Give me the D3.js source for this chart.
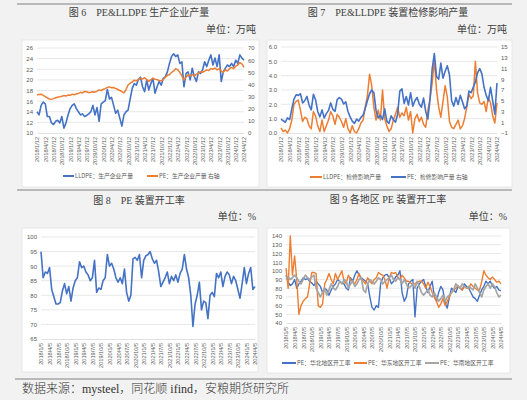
<!DOCTYPE html>
<html><head><meta charset="utf-8">
<script src="https://cdn.jsdelivr.net/npm/d3@7"></script>
<style>
html,body{margin:0;padding:0;background:#f2f2f2;}
svg{display:block;}
</style></head><body>
<svg id="c" width="527" height="400"></svg>
<script>
const ticks12 = ["2018/1/12","2018/4/12","2018/7/12","2018/10/12","2019/1/12","2019/4/12","2019/7/12","2019/10/12","2020/1/12","2020/4/12","2020/7/12","2020/10/12","2021/1/12","2021/4/12","2021/7/12","2021/10/12","2022/1/12","2022/4/12","2022/7/12","2022/10/12","2023/1/12","2023/4/12","2023/7/12","2023/10/12","2024/1/12","2024/4/12"];
const ticks5 = ["2018/1/5","2018/4/5","2018/7/5","2018/10/5","2019/1/5","2019/4/5","2019/7/5","2019/10/5","2020/1/5","2020/4/5","2020/7/5","2020/10/5","2021/1/5","2021/4/5","2021/7/5","2021/10/5","2022/1/5","2022/4/5","2022/7/5","2022/10/5","2023/1/5","2023/4/5","2023/7/5","2023/10/5","2024/1/5","2024/4/5"];

// 图6 LLDPE 生产企业产量 (左轴) / PE 生产企业产量 (右轴)
const lldpeOutput = [14.0,13.4,15.2,15.8,15.5,13.1,13.1,11.9,11.6,12.2,12.4,11.9,13.1,10.9,11.9,13.4,14.6,15.2,15.5,14.6,
 14.0,13.4,13.6,13.1,13.3,13.6,14.0,15.2,13.4,14.8,12.2,15.5,15.8,16.1,18.2,16.4,16.7,15.2,13.7,14.3,
 12.8,11.3,13.4,14.0,14.3,16.4,18.4,19.3,19.0,20.1,20.5,18.7,17.8,20.0,18.1,19.3,20.3,17.5,18.7,19.7,
 19.0,20.3,20.6,21.5,23.1,24.4,24.9,24.4,24.7,23.1,23.4,18.7,21.2,21.5,20.0,22.2,20.6,19.7,21.5,21.2,
 21.9,23.4,22.5,23.7,24.7,22.8,24.1,22.5,24.7,19.7,21.5,22.2,22.8,22.5,23.1,22.5,23.7,23.1,24.7,24.1,23.7];
const peOutput = [31.3,31.8,32.0,31.0,30.0,29.0,28.0,27.7,28.3,29.0,29.5,29.8,30.2,30.8,30.5,31.2,31.0,32.0,31.5,32.2,
 32.6,33.5,33.0,34.2,34.0,33.2,33.5,34.0,33.6,34.5,35.5,35.0,36.0,36.5,37.5,38.0,37.2,37.5,36.6,36.0,
 35.0,34.0,33.0,35.8,39.5,41.0,42.0,43.5,43.0,44.2,45.0,44.5,45.5,44.0,42.5,44.0,45.0,44.3,44.0,43.2,
 43.0,44.0,46.0,47.5,48.0,50.0,51.0,53.0,52.0,50.0,47.0,43.5,46.0,48.0,47.0,48.0,47.0,48.5,49.0,50.5,
 50.0,51.0,52.0,51.5,53.0,52.5,53.5,52.0,53.0,51.0,50.0,52.0,51.0,53.0,54.0,53.0,55.0,56.0,58.0,57.0,54.0];

// 图7 LLDPE 检修影响产量 (左轴) / PE 检修影响产量 (右轴)
const lldpeMaint = [0.35,0.1,0.2,0.0,0.3,0.9,2.0,2.2,2.3,1.6,0.8,1.1,1.0,0.5,0.3,1.5,1.2,0.5,0.1,0.9,
 0.1,0.5,0.9,1.5,1.2,0.6,1.3,1.1,0.8,0.4,1.0,0.3,0.0,0.5,0.1,0.0,0.3,0.7,0.9,1.8,
 2.6,4.1,3.3,1.8,0.9,1.6,0.9,3.0,1.0,0.5,0.1,0.3,0.9,1.3,1.8,1.1,1.4,1.2,1.8,0.9,
 1.5,0.0,1.0,1.3,0.8,1.1,0.6,0.4,1.6,2.4,3.5,5.1,3.0,1.8,1.1,2.2,3.3,2.5,0.8,0.4,
 0.3,0.6,0.9,0.3,0.5,1.0,1.8,2.7,2.4,2.6,5.0,2.8,2.1,2.0,2.2,1.5,2.5,2.1,1.2,0.7,2.1];
const peMaint = [1.6,1.3,1.0,1.8,1.5,3.5,5.3,6.1,6.0,6.3,4.6,5.0,5.8,4.2,3.3,6.2,5.2,3.0,2.0,3.3,
 1.8,2.6,3.2,4.6,3.4,3.0,5.2,5.6,5.3,4.4,4.8,3.0,2.0,1.2,0.8,1.6,1.2,1.9,2.3,3.6,
 5.0,6.3,7.0,6.5,3.2,1.8,2.3,1.5,3.5,1.2,0.8,2.2,1.5,1.0,2.5,6.8,7.2,4.5,5.8,4.2,
 6.5,4.0,5.0,5.6,4.4,3.8,5.5,3.0,1.6,5.3,11.0,13.8,9.5,9.0,12.0,9.2,10.5,11.5,9.8,5.0,
 4.0,5.6,4.3,6.0,4.8,3.5,4.0,6.8,6.5,7.5,8.5,10.2,11.0,10.0,7.5,6.0,5.0,7.5,5.0,2.5,8.3];

// 图8 PE 装置开工率
const peRate = [95,86,88,87.5,89.5,82,79.5,77,77,77.5,81.5,84,80.5,83,78,82.5,85,86,91.5,89.5,
 90,88,87,85,86,92,81,82.5,82,85,86,94,90,91,89,86,84.5,86,84,89,
 81,78,80,92.5,93,92,94,86,92,93.5,94,95,92.5,91,92,88,83,84.5,86,88,
 84,86.5,85,87,84.5,87.5,89,94,89,86,80,69.3,77,80,84.5,75,78,77.5,72,80,
 81,79.5,87.5,86,88,83,86.5,88,87,84,86.5,85,82,79,84,89.5,84,87.5,89.5,82,83];

// 图9 各地区 PE 装置开工率
const northRate = [95,87,83,85,90,80,85,88,92,90,91,88,86,83,88,85,82,75,80,78,
 72,78,82,85,90,88,86,85,80,78,92,88,95,100,95,92,90,88,85,70,
 58,55,60,58,85,92,95,96,92,85,88,93,95,100,75,65,70,85,88,90,
 47,80,85,88,90,82,75,82,88,70,65,75,82,78,63,57,70,80,78,75,
 82,80,78,85,82,80,75,70,68,65,72,78,82,88,85,88,83,80,82,78,77];
const eastRate = [103,80,140,95,117,90,50,60,65,68,70,85,98,98,97,60,58,62,85,90,
 97,90,85,97,90,95,100,88,85,95,90,88,85,90,97,90,88,85,92,88,
 85,90,92,98,96,95,90,80,92,98,97,98,93,90,95,92,88,88,86,84,
 85,87,88,88,85,80,87,82,75,70,65,58,62,68,60,65,70,75,78,80,
 83,80,78,82,80,80,85,82,80,78,78,87,100,95,92,90,93,90,87,88,85];
const southRate = [90,93,90,92,95,92,88,85,90,95,92,90,93,95,80,75,70,75,80,72,
 78,85,80,78,82,88,85,90,88,80,85,88,82,85,90,92,78,75,85,90,
 88,85,88,92,90,85,88,90,92,95,90,88,92,90,85,90,85,80,82,85,
 80,88,82,75,72,75,78,72,70,75,70,65,68,72,65,70,72,75,78,85,
 82,80,85,82,80,82,80,78,85,80,75,70,78,82,85,80,85,82,75,70,72];

const BLUE = "#4472C4", ORANGE = "#ED7D31", GRAY = "#A5A5A5";
const CN = "'Noto Sans CJK SC', sans-serif";
const TITLEF = "'Liberation Serif', 'Noto Sans CJK SC', serif";
const TICKF = "'Liberation Sans', Arial, sans-serif";
const svg = d3.select("#c");

// separator lines
[[17, 512, 4], [17, 512, 190], [15, 512, 379]].forEach(([a, b, y]) => {
  svg.append("line").attr("x1", a).attr("x2", b).attr("y1", y).attr("y2", y)
    .attr("stroke", "#a6a6a6").attr("stroke-width", 1.3);
});

function chart(o) {
  const g = svg.append("g");
  g.append("rect").attr("x", o.panel[0]).attr("y", o.panel[1])
    .attr("width", o.panel[2] - o.panel[0]).attr("height", o.panel[3] - o.panel[1])
    .attr("fill", "#fff").attr("stroke", "#e3e3e3").attr("stroke-width", 0.8);
  g.append("text").attr("x", o.title[1]).attr("y", o.title[2]).attr("text-anchor", "middle")
    .attr("font-family", TITLEF).attr("font-size", 10).attr("fill", "#404040").text(o.title[0]);
  g.append("text").attr("x", o.unit[1]).attr("y", o.unit[2]).attr("text-anchor", "end")
    .attr("font-family", TITLEF).attr("font-size", 10).attr("fill", "#404040").text(o.unit[0]);

  const n = o.series[0].data.length;
  const x = d3.scaleLinear().domain([0, n - 1]).range([o.x0, o.x1]);
  const yL = d3.scaleLinear().domain(o.left.domain).range([o.yB, o.yT]);
  const yR = o.right ? d3.scaleLinear().domain(o.right.domain).range([o.yB, o.yT]) : null;

  g.append("g").selectAll("line").data(o.left.ticks.slice(1)).join("line")
    .attr("x1", o.x0).attr("x2", o.x1).attr("y1", d => yL(d)).attr("y2", d => yL(d))
    .attr("stroke", "#d9d9d9").attr("stroke-width", 0.6);

  const la = g.append("g").attr("transform", `translate(${o.x0},0)`)
    .call(d3.axisLeft(yL).tickValues(o.left.ticks).tickSize(0).tickPadding(4));
  la.select(".domain").remove();
  la.selectAll("text").attr("font-family", TICKF).attr("font-size", 6).attr("fill", "#595959");

  if (yR) {
    const ra = g.append("g").attr("transform", `translate(${o.x1},0)`)
      .call(d3.axisRight(yR).tickValues(o.right.ticks).tickSize(0).tickPadding(4));
    ra.select(".domain").remove();
    ra.selectAll("text").attr("font-family", TICKF).attr("font-size", 6).attr("fill", "#595959");
  }

  const step = (n - 1) / (o.xLabels.length - 1);
  const xa = g.append("g").attr("transform", `translate(0,${o.yB})`)
    .call(d3.axisBottom(x).tickValues(o.xLabels.map((d, i) => i * step)).tickSize(0)
      .tickFormat((d, i) => o.xLabels[i]));
  xa.select(".domain").attr("stroke", "#d9d9d9").attr("stroke-width", 0.8);
  xa.selectAll("text").attr("transform", "rotate(-90)").attr("text-anchor", "end")
    .attr("x", -4).attr("y", 0).attr("dy", "0.35em")
    .attr("font-family", TICKF).attr("font-size", 5.6).attr("fill", "#595959");

  o.series.forEach(s => {
    const ys = s.axis === "right" ? yR : yL;
    g.append("path").datum(s.data)
      .attr("d", d3.line().x((d, i) => x(i)).y(d => ys(d)))
      .attr("fill", "none").attr("stroke", s.color).attr("stroke-width", s.w || 1.4)
      .attr("stroke-linejoin", "round");
  });

  (o.legend || []).forEach(l => {
    g.append("line").attr("x1", l.x).attr("x2", l.x + l.len).attr("y1", o.legendY).attr("y2", o.legendY)
      .attr("stroke", l.color).attr("stroke-width", 2);
    g.append("text").attr("x", l.x + l.len + 1).attr("y", o.legendY).attr("dy", "0.35em")
      .attr("font-family", CN).attr("font-size", 5.8).attr("fill", "#595959").text(l.text);
  });
}

chart({
  panel: [22, 40, 259, 187],
  title: ["图 6　PE&LLDPE 生产企业产量", 139, 16], unit: ["单位：万吨", 256, 33],
  x0: 37, x1: 244, yT: 48, yB: 133,
  left: {domain: [10, 26], ticks: [10,12,14,16,18,20,22,24,26]},
  right: {domain: [0, 70], ticks: [0,10,20,30,40,50,60,70]},
  xLabels: ticks12,
  series: [{data: lldpeOutput, color: BLUE, axis: "left", w: 1.6}, {data: peOutput, color: ORANGE, axis: "right", w: 1.5}],
  legendY: 176,
  legend: [{x: 63, len: 11, color: BLUE, text: "LLDPE：生产企业产量"}, {x: 147, len: 11, color: ORANGE, text: "PE：生产企业产量 右轴"}]
});

chart({
  panel: [267, 40, 512, 187],
  title: ["图 7　PE&LLDPE 装置检修影响产量", 388, 16], unit: ["单位：万吨", 507, 33],
  x0: 281, x1: 497, yT: 47, yB: 133,
  left: {domain: [0, 6], ticks: [0,1,2,3,4,5,6]},
  right: {domain: [-1, 15], ticks: [-1,1,3,5,7,9,11,13,15]},
  xLabels: ticks12,
  series: [{data: lldpeMaint, color: ORANGE, axis: "left", w: 1.5}, {data: peMaint, color: BLUE, axis: "right", w: 1.6}],
  legendY: 177,
  legend: [{x: 310, len: 12, color: ORANGE, text: "LLDPE：检修影响产量"}, {x: 391, len: 15, color: BLUE, text: "PE：检修影响产量 右轴"}]
});

chart({
  panel: [22, 228, 258, 372],
  title: ["图 8　PE 装置开工率", 139, 204], unit: ["单位：%", 256, 220],
  x0: 41, x1: 255, yT: 237, yB: 339,
  left: {domain: [65, 100], ticks: [65,70,75,80,85,90,95,100]},
  xLabels: ticks5,
  series: [{data: peRate, color: BLUE, axis: "left", w: 1.6}]
});

chart({
  panel: [267, 228, 510, 373],
  title: ["图 9 各地区 PE 装置开工率", 388, 203], unit: ["单位：%", 507, 220],
  x0: 286, x1: 501, yT: 236, yB: 323,
  left: {domain: [40, 140], ticks: [40,50,60,70,80,90,100,110,120,130,140]},
  xLabels: ticks5,
  series: [{data: northRate, color: BLUE, axis: "left", w: 1.4}, {data: eastRate, color: ORANGE, axis: "left", w: 1.4}, {data: southRate, color: GRAY, axis: "left", w: 1.7}],
  legendY: 363,
  legend: [{x: 282, len: 14, color: BLUE, text: "PE：华北地区开工率"}, {x: 354, len: 13, color: ORANGE, text: "PE：华东地区开工率"}, {x: 425, len: 14, color: GRAY, text: "PE：华南地区开工率"}]
});

svg.append("text").attr("x", 22).attr("y", 393).attr("font-family", TITLEF).attr("font-size", 12)
  .attr("font-weight", 300).attr("fill", "#333333").text("数据来源：mysteel，同花顺 ifind，安粮期货研究所");
</script>
</body></html>
